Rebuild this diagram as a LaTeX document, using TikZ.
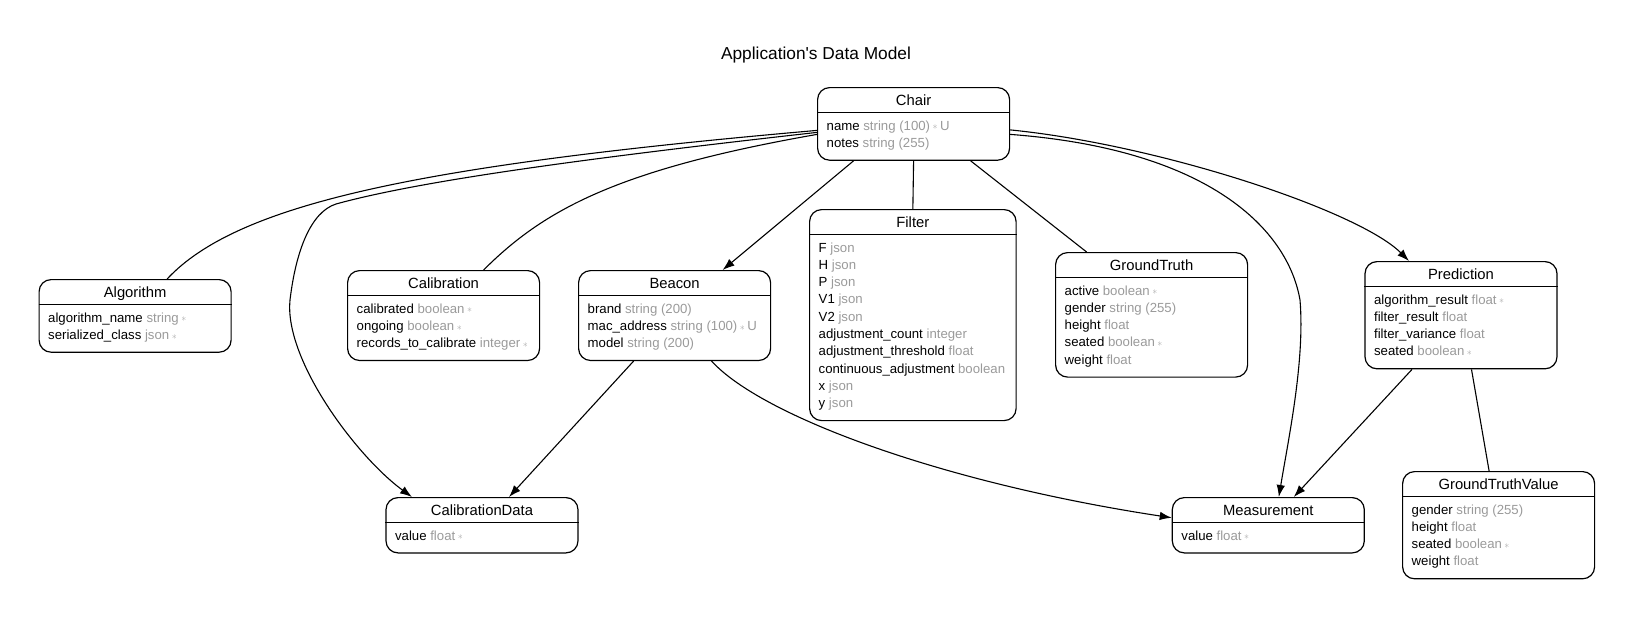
\documentclass[tikz,border=0pt]{standalone}
\usepackage{fontspec}
\setmainfont{Liberation Sans}
\usetikzlibrary{arrows.meta}
\definecolor{typegray}{HTML}{9A9A9A}
\definecolor{reqgray}{HTML}{A8A8A8}

\begin{document}
\begin{tikzpicture}[x=1pt,y=-1pt,
  entity/.style={draw,line width=1.2pt,rounded corners=12pt,inner sep=0pt,anchor=north west},
  head/.style={anchor=base,inner sep=0pt,font=\fontsize{14.8}{16}\selectfont},
  field/.style={anchor=base west,inner sep=0pt,font=\fontsize{13.2}{15}\selectfont},
  link/.style={line width=1.1pt},
  many/.style={link,-{Latex[length=12pt,width=8.5pt]}}]

  \useasboundingbox (0,0) rectangle (1633,618);

  \def\ty#1{\textcolor{typegray}{#1}}
  \def\req{\hspace{2.5pt}{\color{reqgray}\raisebox{0.3pt}{\fontsize{10}{10}\selectfont$\ast$}}}

  % one table: name, left, top, width, rows, title, fields
  \def\entity#1#2#3#4#5#6#7{
    \node[entity,minimum width=#4,minimum height={25.5+12.5+17.3*#5}] (#1) at (#2,#3) {};
    \draw[line width=1.2pt] ([yshift=-25.5pt]#1.north west) -- ([yshift=-25.5pt]#1.north east);
    \node[head] at ([yshift=-18.6pt]#1.north) {#6};
    \foreach \f [count=\i] in {#7}
      \node[field] at ([shift={(9.5pt,{-43pt-17.3pt*(\i-1)})}]#1.north west) {\f};
  }

  % title
  \node[anchor=base,inner sep=0pt,font=\fontsize{17.3}{20}\selectfont] (title) at (816,59.5)
    {Application\textquotesingle s Data Model};

  % tables
  \entity{chair}{817}{87}{192}{2}{Chair}{name \ty{string (100)\req\hspace{2.5pt}U}, notes \ty{string (255)}}
  \entity{algorithm}{38.5}{279}{192}{2}{Algorithm}{algorithm\_name \ty{string\req}, serialized\_class \ty{json\req}}
  \entity{calibration}{347}{270}{192}{3}{Calibration}{calibrated \ty{boolean\req}, ongoing \ty{boolean\req}, records\_to\_calibrate \ty{integer\req}}
  \entity{beacon}{578}{270}{192}{3}{Beacon}{brand \ty{string (200)}, mac\_address \ty{string (100)\req\hspace{2.5pt}U}, model \ty{string (200)}}
  \entity{filter}{809}{209}{206.5}{10}{Filter}{F \ty{json}, H \ty{json}, P \ty{json}, V1 \ty{json}, V2 \ty{json}, adjustment\_count \ty{integer}, adjustment\_threshold \ty{float}, continuous\_adjustment \ty{boolean}, x \ty{json}, y \ty{json}}
  \entity{groundtruth}{1055}{252}{192}{5}{GroundTruth}{active \ty{boolean\req}, gender \ty{string (255)}, height \ty{float}, seated \ty{boolean\req}, weight \ty{float}}
  \entity{prediction}{1364.4}{261}{192}{4}{Prediction}{algorithm\_result \ty{float\req}, filter\_result \ty{float}, filter\_variance \ty{float}, seated \ty{boolean\req}}
  \entity{calibrationdata}{385.4}{497}{192}{1}{CalibrationData}{value \ty{float\req}}
  \entity{measurement}{1171.7}{497}{192}{1}{Measurement}{value \ty{float\req}}
  \entity{groundtruthvalue}{1402}{471}{192}{4}{GroundTruthValue}{gender \ty{string (255)}, height \ty{float}, seated \ty{boolean\req}, weight \ty{float}}

  % one to one
  \draw[link] ([yshift=-6.5pt]chair.west) .. controls +(-400,35) and +(70,-75) .. ([xshift=32pt]algorithm.north);
  \draw[link] ([yshift=-10.5pt]chair.west) .. controls +(-200,35) and +(60,-60) .. ([xshift=40pt]calibration.north);
  \draw[link] (chair.south) -- (filter.north);
  \draw[link] ([xshift=57pt]chair.south) -- ([xshift=-65pt]groundtruth.north);
  \draw[link] ([xshift=10.5pt]prediction.south) -- ([xshift=-9.5pt]groundtruthvalue.north);

  % one to many
  \draw[many] ([yshift=-8.5pt]chair.west) .. controls +(-250,28) and +(80,-22) .. (336,204)
    .. controls +(-25,8) and +(6,-50) .. (290,300)
    .. controls +(-6,60) and +(-55,-40) .. ([xshift=-70pt]calibrationdata.north);
  \draw[many] ([xshift=-60pt]chair.south) -- ([xshift=48pt]beacon.north);
  \draw[many] ([yshift=-10.5pt]chair.east) .. controls +(200,15) and +(-12,-70) .. (1300,300)
    .. controls +(5,60) and +(10,-60) .. ([xshift=10.5pt]measurement.north);
  \draw[many] ([yshift=-6pt]chair.east) .. controls +(150,15) and +(-50,-50) .. ([xshift=-52pt]prediction.north);
  \draw[many] ([xshift=-41pt]beacon.south) -- ([xshift=27pt]calibrationdata.north);
  \draw[many] ([xshift=37pt]beacon.south) .. controls +(50,55) and +(-230,-35) .. ([yshift=7.5pt]measurement.west);
  \draw[many] ([xshift=-49pt]prediction.south) -- ([xshift=25.5pt]measurement.north);

\end{tikzpicture}
\end{document}
